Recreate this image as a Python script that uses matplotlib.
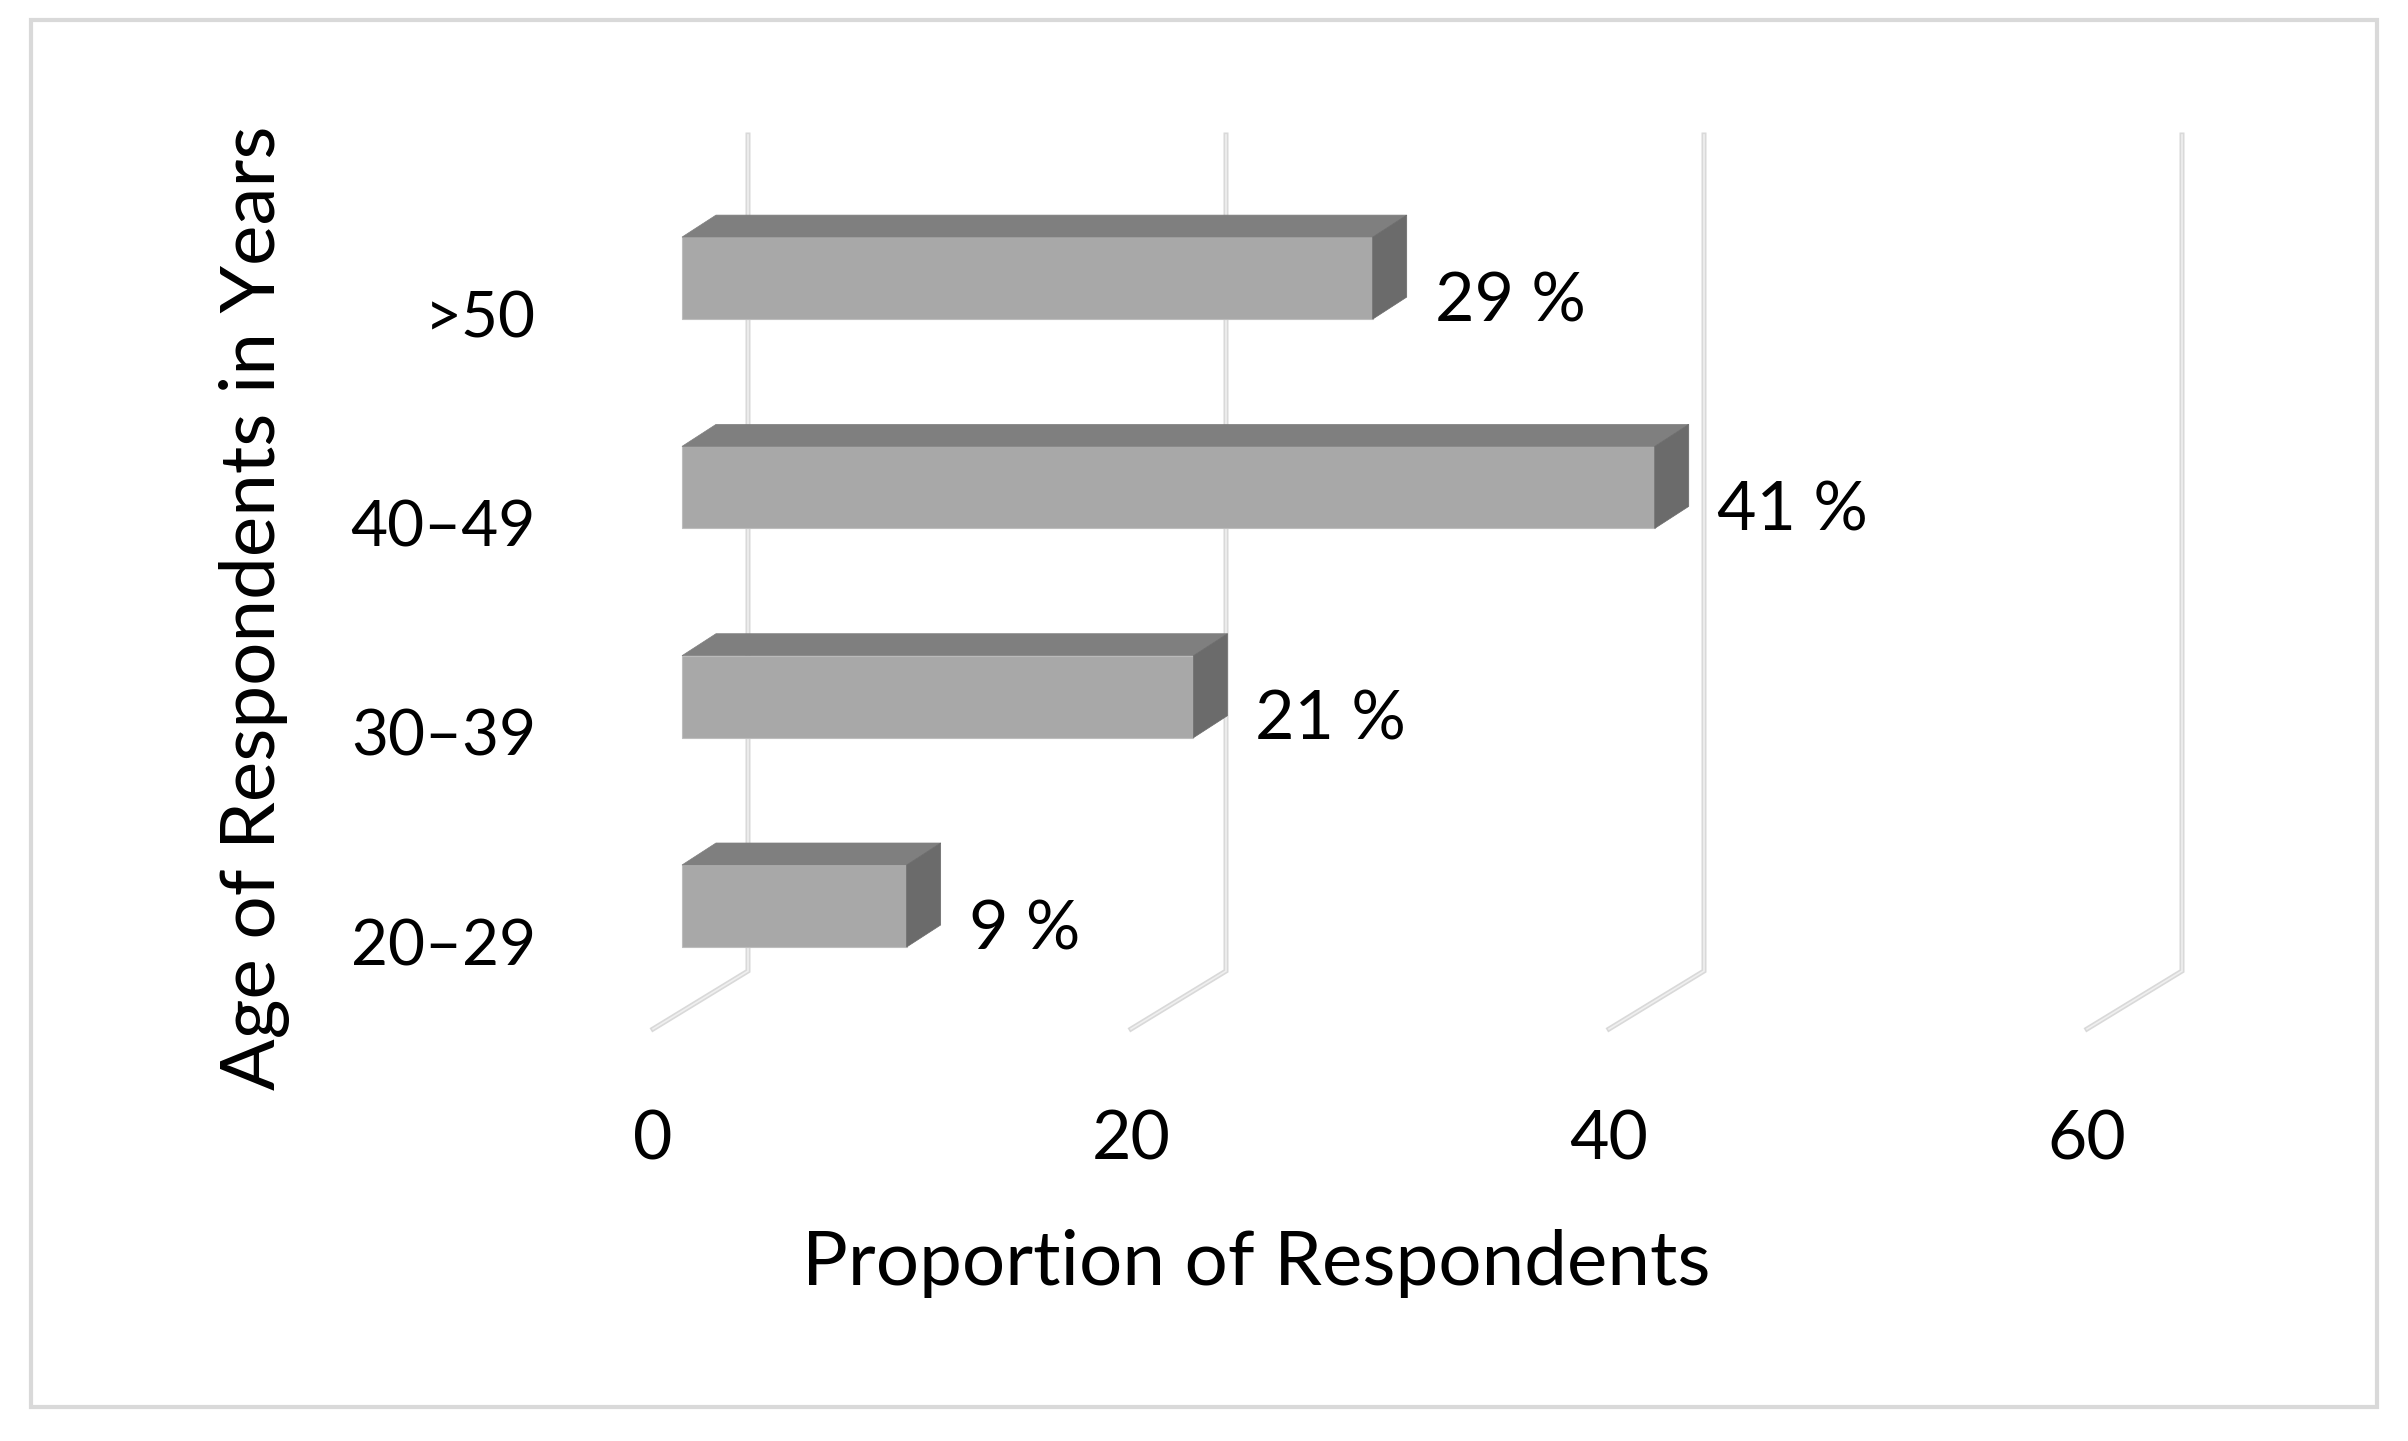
import matplotlib
matplotlib.use("Agg")
import matplotlib.pyplot as plt
from matplotlib.patches import Polygon, Rectangle

# data
ages = ["20–29", "30–39", "40–49", ">50"]
shares = [9.4, 21.4, 40.7, 28.9]
value_labels = ["9 %", "21 %", "41 %", "29 %"]
ticks = [0, 20, 40, 60]

plt.rcParams["font.family"] = ["Lato", "DejaVu Sans"]

W, H = 2408, 1441
fig = plt.figure(figsize=(W / 100, H / 100), dpi=100)
ax = fig.add_axes([0, 0, 1, 1])
ax.axis("off")

# pixel based layout of the fake 3d scene
px_x = 23.9      # pixels per percent
px_y = 209.3     # pixels per category
x0 = 682         # pixel x of 0 on bar front plane
y0 = 906         # pixel y (from top) of first bar centre
ax.set_xlim(-x0 / px_x, (W - x0) / px_x)
ax.set_ylim((y0 - H) / px_y, y0 / px_y)

def dx(p):
    return p / px_x

def dy(p):
    return p / px_y

# walls: back gridlines and floor lines
back_off = dx(748 - x0)
front_off = dx(653 - x0)
top_i = (y0 - 135) / px_y
bot_i = (y0 - 971) / px_y
floor_i = (y0 - 1029) / px_y
for t in ticks:
    xs = [t + front_off, t + back_off, t + back_off]
    ys = [floor_i, bot_i, top_i]
    ax.plot(xs, ys, color="#d9d9d9", lw=3.6, solid_joinstyle="miter", zorder=1)
    ax.plot(xs, ys, color="#efefef", lw=1.2, solid_joinstyle="miter", zorder=1)
    ax.text(t + front_off, (y0 - 1140) / px_y, str(t), ha="center", va="center",
            fontsize=49, color="#000000")

# bars
h = dy(82)
ddx, ddy = dx(34), dy(22)
for i, (v, lab) in enumerate(zip(shares, value_labels)):
    ax.barh(i, v, left=0, height=h, color="#a8a8a8", edgecolor="#bdbdbd",
            linewidth=0.8, zorder=3)
    top = Polygon([(0, i + h / 2), (v, i + h / 2), (v + ddx, i + h / 2 + ddy),
                   (ddx, i + h / 2 + ddy)], closed=True, facecolor="#7f7f7f",
                  edgecolor="#7f7f7f", lw=0.5, zorder=3)
    side = Polygon([(v, i - h / 2), (v, i + h / 2), (v + ddx, i + h / 2 + ddy),
                    (v + ddx, i - h / 2 + ddy)], closed=True, facecolor="#6b6b6b",
                   edgecolor="#6b6b6b", lw=0.5, zorder=3)
    ax.add_patch(top)
    ax.add_patch(side)
    ax.text(v + ddx + dx(28), i - dy(24), lab, ha="left", va="center",
            fontsize=49, color="#000000")
    ax.text(dx(536 - x0), i - dy(41), ages[i], ha="right", va="center",
            fontsize=46, color="#000000")

fig.text(1256 / W, 1 - 1264 / H, "Proportion of Respondents", ha="center",
         va="center", fontsize=55)
fig.text(255 / W, 1 - 608 / H, "Age of Respondents in Years", ha="center",
         va="center", rotation=90, fontsize=55)

fig.patches.append(Rectangle((31 / W, 1 - 1407 / H), (2377 - 31) / W, (1407 - 20) / H,
                             transform=fig.transFigure, fill=False,
                             edgecolor="#d9d9d9", lw=3))

fig.savefig("out.png", dpi=100, facecolor="white")
